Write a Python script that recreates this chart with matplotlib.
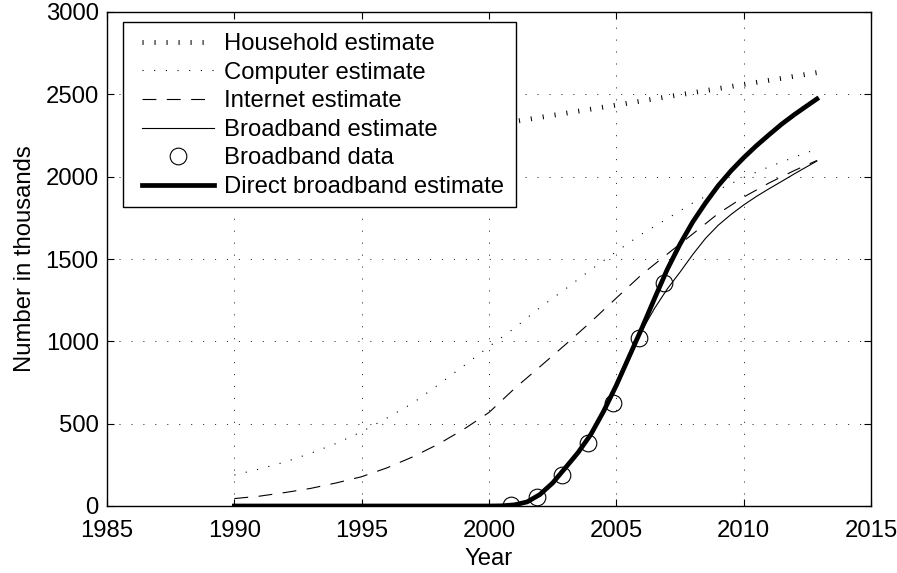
import matplotlib
matplotlib.use('Agg')
import matplotlib.pyplot as plt
from matplotlib.patches import Rectangle

plt.rcParams['font.family'] = ['Liberation Sans', 'DejaVu Sans']
plt.rcParams['font.size'] = 17.2
plt.rcParams['lines.scale_dashes'] = False

# ---- data ----
years = [1990, 1991, 1992, 1993, 1994, 1995, 1996, 1997, 1998, 1999, 2000, 2001,
         2002, 2003, 2004, 2005, 2006, 2007, 2008, 2009, 2010, 2011, 2012, 2012.875]
household = [2060, 2085, 2110, 2135, 2160, 2185, 2210, 2235, 2260, 2285, 2310, 2335,
             2360, 2385, 2410, 2435, 2460, 2485, 2510, 2535, 2560, 2585, 2610, 2632]
computer = [188, 225, 268, 320, 380, 451, 535, 624, 735, 850, 968, 1080,
            1205, 1318, 1435, 1545, 1652, 1745, 1840, 1920, 1995, 2060, 2119, 2168]
internet = [45, 60, 82, 107, 140, 178, 232, 298, 375, 465, 568, 713,
            846, 980, 1118, 1263, 1406, 1530, 1652, 1776, 1876, 1962, 2038, 2098]

years_fine = [1990, 1991, 1992, 1993, 1994, 1995, 1996, 1997, 1998, 1999,
              2000, 2000.5, 2001, 2001.5, 2002, 2002.5, 2003, 2003.5, 2004, 2004.5,
              2005, 2005.5, 2006, 2006.5, 2007, 2007.5, 2008, 2008.5, 2009, 2009.5,
              2010, 2010.5, 2011, 2011.5, 2012, 2012.5, 2012.875]
broadband_est = [0, 0, 0, 0, 0, 0, 0, 0, 0, 0,
                 0, 1, 6, 22, 62, 135, 228, 322, 432, 570,
                 728, 898, 1065, 1200, 1318, 1420, 1527, 1625, 1705, 1770,
                 1828, 1880, 1927, 1972, 2018, 2062, 2095]
direct_est = [0, 0, 0, 0, 0, 0, 0, 0, 0, 0,
              0, 1, 7, 25, 70, 140, 232, 325, 435, 575,
              733, 906, 1079, 1260, 1437, 1590, 1725, 1840, 1945, 2035,
              2115, 2188, 2255, 2320, 2378, 2432, 2472]

data_years = [2000.875, 2001.875, 2002.875, 2003.875, 2004.875, 2005.875, 2006.875]
data_vals = [8, 52, 190, 385, 624, 1019, 1353]

xticks = [1985, 1990, 1995, 2000, 2005, 2010, 2015]
yticks = [0, 500, 1000, 1500, 2000, 2500, 3000]

# ---- figure ----
W, H = 897, 573
fig = plt.figure(figsize=(W / 100, H / 100), dpi=100)
ax = fig.add_axes([107 / W, 67 / H, 764 / W, 494 / H])

ax.plot(years, household, color='k', linewidth=3.5, linestyle=(0, (0.75, 7.9)),
        dash_capstyle='butt', label='Household estimate')
ax.plot(years, computer, color='k', linewidth=0.8, linestyle=(0, (0.8, 7.6)),
        dash_capstyle='butt', label='Computer estimate')
ax.plot(years, internet, color='k', linewidth=0.8, linestyle=(0, (10, 7.5)),
        label='Internet estimate')
ax.plot(years_fine, broadband_est, color='k', linewidth=0.8, label='Broadband estimate')
ax.plot(data_years, data_vals, linestyle='none', marker='o', markersize=12,
        markerfacecolor='none', markeredgecolor='k', markeredgewidth=0.8,
        label='Broadband data')
ax.plot(years_fine, direct_est, color='k', linewidth=3.4, label='Direct broadband estimate')

ax.set_xlim(1985, 2015)
ax.set_ylim(0, 3000)
ax.set_xticks(xticks)
ax.set_yticks(yticks)
ax.tick_params(direction='in', length=5, width=0.8, top=True, right=True)
ax.tick_params(axis='x', pad=10.3)
ax.tick_params(axis='y', pad=6)
ax.grid(True, color='0.2', linestyle=(0, (0.8, 7.8)), linewidth=0.7)
ax.set_axisbelow(True)
for s in ax.spines.values():
    s.set_linewidth(1.0)

ax.set_xlabel('Year', labelpad=4.4)
ax.set_ylabel('Number in thousands', labelpad=7)

# legend frame drawn explicitly, legend entries placed inside it
frame = Rectangle((123.3 / W, 1 - 207 / H), (516 - 123.3) / W, (207 - 21.7) / H,
                  transform=fig.transFigure, facecolor='white', edgecolor='k',
                  linewidth=1.0, zorder=4, clip_on=False)
ax.add_patch(frame)
leg = ax.legend(loc='upper left', bbox_to_anchor=(142 / W, 1 - 33.2 / H),
                bbox_transform=fig.transFigure, borderaxespad=0, borderpad=0,
                frameon=False, handlelength=3.0, handletextpad=0.45,
                labelspacing=0.275, numpoints=1)
leg.set_zorder(5)

fig.savefig('out.png', dpi=100)
